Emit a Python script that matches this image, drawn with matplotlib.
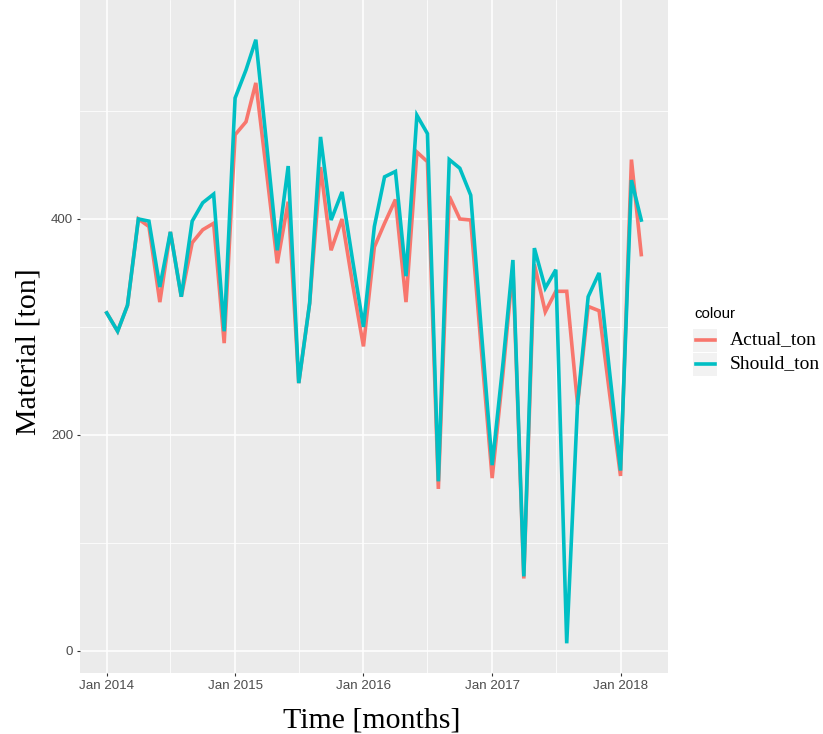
import pandas as pd
import matplotlib
matplotlib.use("Agg")
import matplotlib.pyplot as plt
import matplotlib.dates as mdates
from matplotlib.patches import Rectangle
from matplotlib.lines import Line2D

# monthly values, Jan 2014 .. Mar 2018
months = pd.date_range("2014-01-01", periods=51, freq="MS")

should_ton = [313, 296, 320, 400, 398, 337, 388, 328, 398, 415, 423, 296,
              512, 538, 566, 468, 371, 449, 248, 322, 476, 399, 425, 362,
              300, 393, 439, 444, 347, 496, 479, 157, 455, 447, 422, 297,
              172, 267, 362, 69, 373, 336, 353, 7, 230, 328, 350, 258,
              167, 436, 399]

actual_ton = [313, 296, 320, 400, 393, 323, 388, 328, 378, 390, 396, 285,
              478, 490, 526, 442, 359, 416, 248, 322, 448, 371, 400, 340,
              282, 374, 396, 418, 323, 462, 453, 150, 421, 400, 399, 280,
              160, 258, 355, 67, 358, 314, 333, 333, 228, 319, 315, 238,
              162, 455, 367]

series_names = ["Actual_ton", "Should_ton"]
colors = ["#F8766D", "#00BFC4"]

W, H = 823, 734
fig = plt.figure(figsize=(W / 100, H / 100), dpi=100)
ax = fig.add_axes([80 / W, (H - 673) / H, 588 / W, 673 / H])
ax.set_facecolor("#EBEBEB")

ax.plot(months, actual_ton, color=colors[0], lw=2.6, solid_joinstyle="miter", zorder=3)
ax.plot(months, should_ton, color=colors[1], lw=2.6, solid_joinstyle="miter", zorder=4)

# ggplot-like 5% expansion on x
x0 = mdates.date2num(months[0])
x1 = mdates.date2num(months[-1])
pad = (x1 - x0) * 0.05
ax.set_xlim(x0 - pad, x1 + pad)
ax.set_ylim(-20.5, 602.8)

ax.xaxis.set_major_locator(mdates.YearLocator())
ax.xaxis.set_major_formatter(mdates.DateFormatter("%b %Y"))
ax.xaxis.set_minor_locator(mdates.MonthLocator(bymonth=7))
ax.set_yticks([0, 200, 400])
ax.set_yticks([100, 300, 500], minor=True)

ax.grid(which="major", color="white", lw=1.1)
ax.grid(which="minor", color="white", lw=0.55)
ax.set_axisbelow(True)
for s in ax.spines.values():
    s.set_visible(False)

ax.tick_params(which="major", length=2.5, width=0.8, color="#333333",
               labelsize=9.6, labelcolor="#4D4D4D", pad=2.5)
ax.tick_params(which="minor", length=0)
for lab in ax.get_xticklabels() + ax.get_yticklabels():
    lab.set_family(["Liberation Sans", "DejaVu Sans"])

ax.set_xlabel("Time [months]", family="Liberation Serif", fontsize=21.5)
ax.set_ylabel("Material [ton]", family="Liberation Serif", fontsize=21.5)
ax.xaxis.set_label_coords(0.497, -0.051)
ax.yaxis.set_label_coords(-0.065, 0.478)

# legend drawn ggplot style
fig.text(694 / W, 1 - 314 / H, "colour", family=["Liberation Sans", "DejaVu Sans"],
         fontsize=10.8, color="black", va="center", ha="left")
for k, (name, c) in enumerate(zip(series_names, colors)):
    yc = 340 + 24 * k
    fig.add_artist(Rectangle((693 / W, 1 - (yc + 11.5) / H), 24 / W, 23 / H,
                             transform=fig.transFigure, facecolor="#F2F2F2",
                             edgecolor="none"))
    fig.add_artist(Line2D([696 / W, 715 / W], [1 - yc / H, 1 - yc / H],
                          transform=fig.transFigure, color=c, lw=2.6))
    fig.text(730 / W, 1 - yc / H, name, family="Liberation Serif", fontsize=14,
             va="center", ha="left")

fig.savefig("out.png", dpi=100)
